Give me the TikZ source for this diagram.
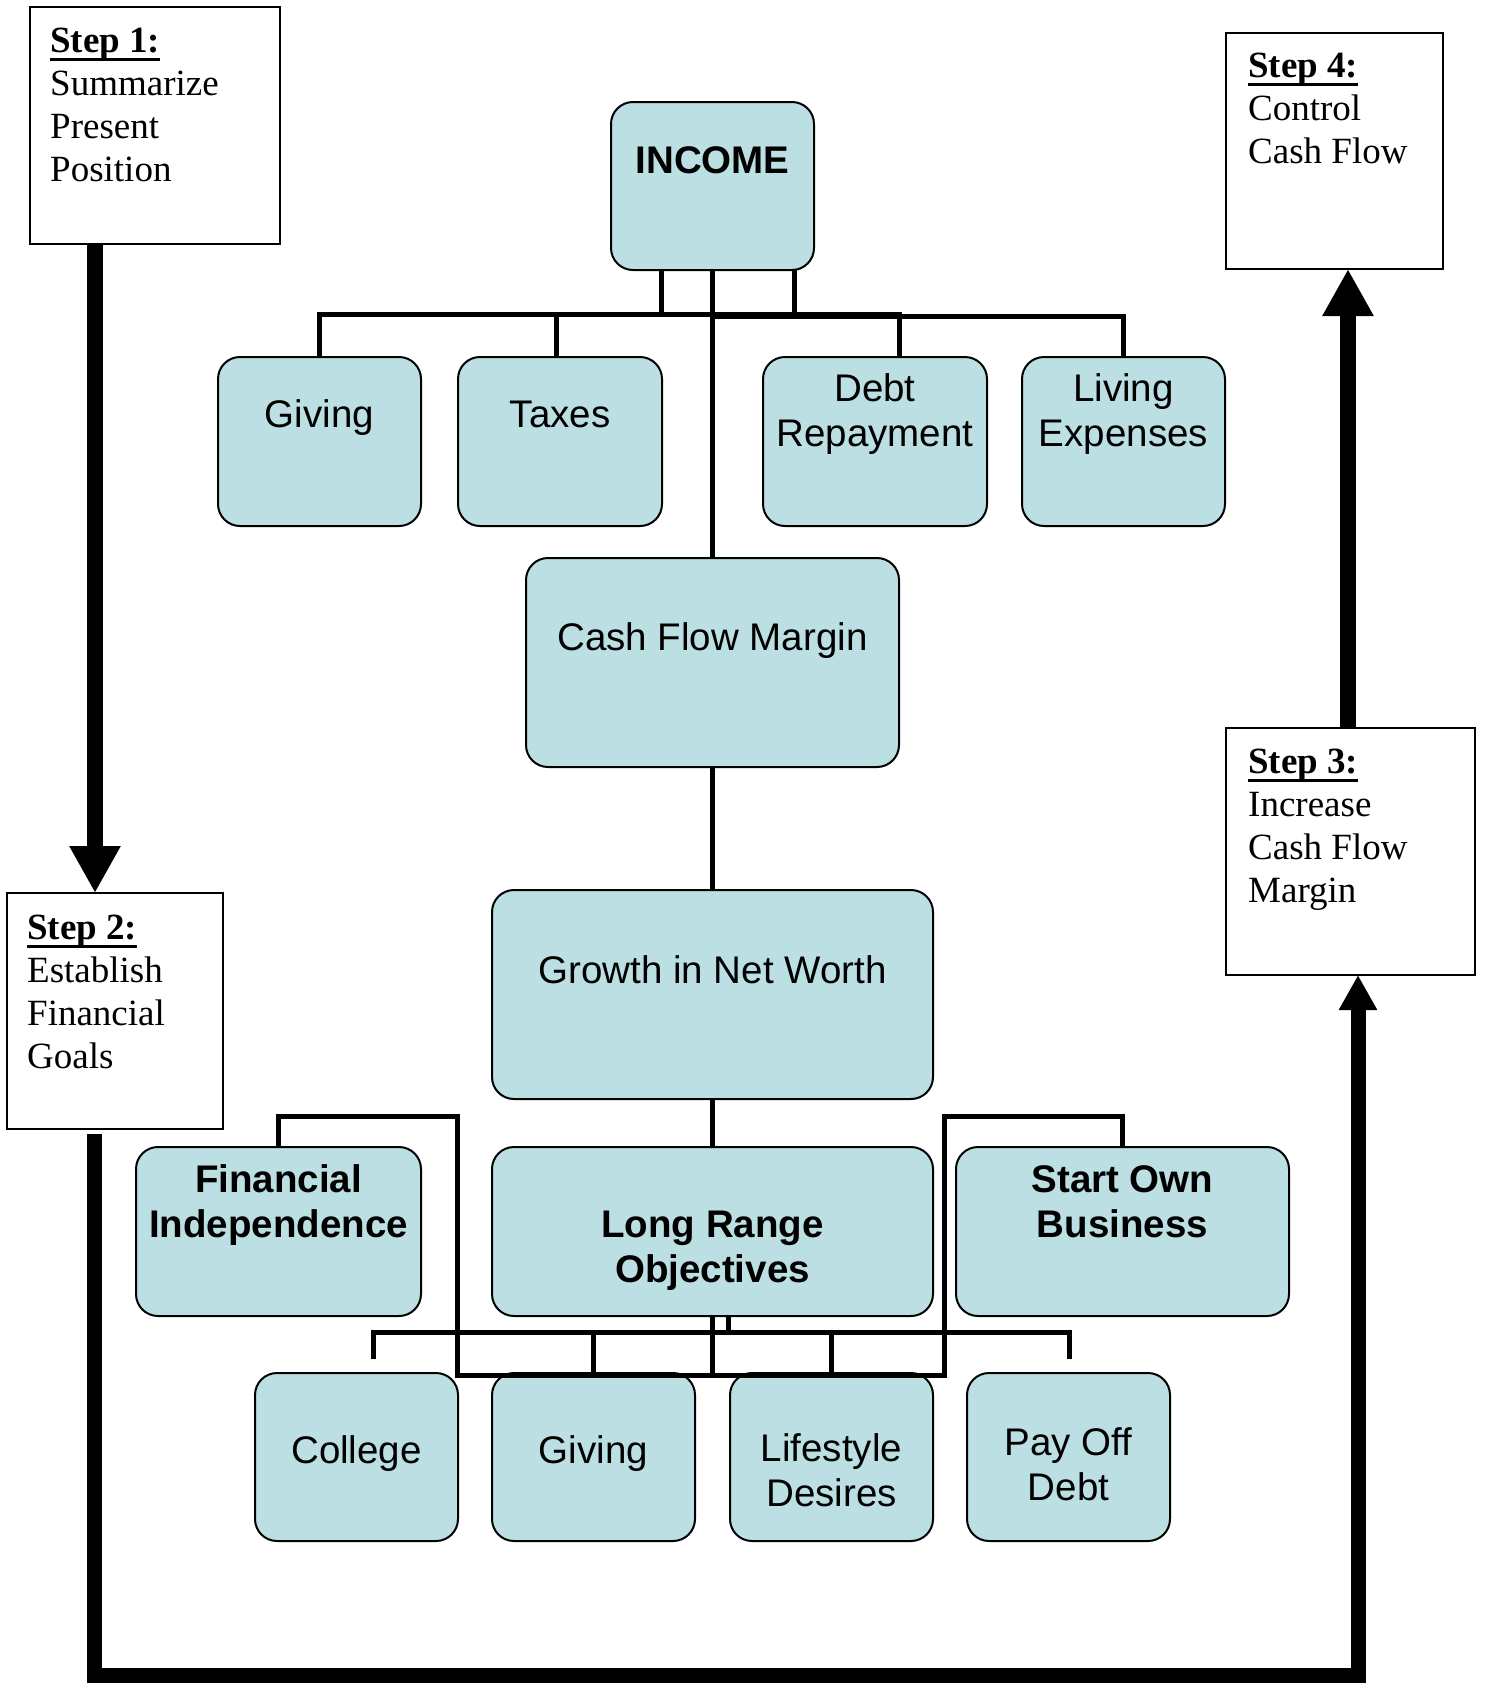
\documentclass[tikz,border=0pt]{standalone}
\usepackage{fontspec}
\setmainfont{Liberation Serif}
\newfontfamily\arialf{Liberation Sans}
\usetikzlibrary{arrows.meta,calc}
\definecolor{boxfill}{RGB}{187,223,227}
\newcommand\stepul[1]{\setbox0=\hbox{#1}\rlap{\rule[-9pt]{\wd0}{3pt}}\box0}
\tikzset{
 cbox/.style={draw=black, line width=2pt, fill=boxfill, rounded corners=22pt, inner sep=0pt, outer sep=0pt},
 ctext/.style={font=\arialf\fontsize{38.5}{45.5}\selectfont, align=center, inner sep=0pt, anchor=north},
 sbox/.style={draw=black, line width=2pt, fill=white, inner sep=0pt, outer sep=0pt},
 stext/.style={font=\fontsize{37}{43}\selectfont, align=left, inner sep=0pt, anchor=north west},
 conn/.style={line width=5pt, line join=miter},
 bigarrow/.style={line width=16pt, -{Triangle[width=48pt,length=47pt]}},
 midarrow/.style={line width=15pt, line join=miter, -{Triangle[width=36pt,length=35pt]}},
}
\begin{document}
\begin{tikzpicture}[x=1pt,y=-1pt]
\useasboundingbox[fill=white] (0,0) rectangle (1486,1690);
% step boxes
\node[sbox, minimum width=250pt, minimum height=237pt] (s1) at (155,125.5) {};
\node[sbox, minimum width=216pt, minimum height=236pt] (s2) at (115,1011) {};
\node[sbox, minimum width=249pt, minimum height=247pt] (s3) at (1350.5,851.5) {};
\node[sbox, minimum width=217pt, minimum height=236pt] (s4) at (1334.5,151) {};
% coloured boxes
\node[cbox, minimum width=203pt, minimum height=168pt] (inc) at (712.5,186) {};
\node[cbox, minimum width=203pt, minimum height=169pt] (giv1) at (319.5,441.5) {};
\node[cbox, minimum width=204pt, minimum height=169pt] (tax) at (560,441.5) {};
\node[cbox, minimum width=224pt, minimum height=169pt] (debt) at (875,441.5) {};
\node[cbox, minimum width=203pt, minimum height=169pt] (liv) at (1123.5,441.5) {};
\node[cbox, minimum width=373pt, minimum height=209pt] (cfm) at (712.5,662.5) {};
\node[cbox, minimum width=441pt, minimum height=209pt] (grw) at (712.5,994.5) {};
\node[cbox, minimum width=285pt, minimum height=169pt] (fi) at (278.5,1231.5) {};
\node[cbox, minimum width=441pt, minimum height=169pt] (lro) at (712.5,1231.5) {};
\node[cbox, minimum width=333pt, minimum height=169pt] (sob) at (1122.5,1231.5) {};
\node[cbox, minimum width=203pt, minimum height=168pt] (col) at (356.5,1457) {};
\node[cbox, minimum width=203pt, minimum height=168pt] (giv2) at (593.5,1457) {};
\node[cbox, minimum width=203pt, minimum height=168pt] (lif) at (831.5,1457) {};
\node[cbox, minimum width=203pt, minimum height=168pt] (pod) at (1068.5,1457) {};
% connector helper coordinates
\coordinate (barA) at (0,314);
\coordinate (barB) at (0,316);
\coordinate (barC) at (0,1332);
\coordinate (barD) at (0,1375);
\coordinate (dc) at (373,1359);
\coordinate (dp) at (1069,1359);
\coordinate (jl) at (457,1116);
\coordinate (jr) at (944,1116);
\coordinate (lb) at (94,1675);
\coordinate (rb) at (1358,1675);
% INCOME connectors
\draw[conn] ([xshift=-51.5pt]inc.south) -- ([xshift=-51.5pt]inc.south |- barA);
\draw[conn] (giv1.north) |- ([xshift=24pt]debt.north |- barA) -- ([xshift=24pt]debt.north);
\draw[conn] ([xshift=-4pt]tax.north) -- ([xshift=-4pt]tax.north |- barA);
\draw[conn] ([xshift=81.5pt]inc.south) -- ([xshift=81.5pt]inc.south |- barB);
\draw[conn] (inc.south |- barB) -| (liv.north);
\draw[conn] (inc.south) -- (cfm.north);
\draw[conn] (cfm.south) -- (grw.north);
\draw[conn] (grw.south) -- (lro.north);
% Long range connectors
\draw[conn] (lro.south) -- (lro.south |- barD);
\draw[conn] ([xshift=16pt]lro.south) -- ([xshift=16pt]lro.south |- barC);
\draw[conn] (dc) |- (dp |- barC) -- (dp);
\draw[conn] (giv2.north |- barC) -- (giv2.north);
\draw[conn] (lif.north |- barC) -- (lif.north);
\draw[conn] (fi.north) |- (jl) -- (jl |- barD) -- (jr |- barD) -- (jr) -| (sob.north);
% step arrows
\draw[bigarrow] ([xshift=-60pt]s1.south) -- ([xshift=-20pt]s2.north);
\draw[midarrow] ([xshift=-21pt,yshift=-5pt]s2.south) -- (lb) -- (rb) -- ([xshift=7.5pt]s3.south);
\draw[bigarrow] ([xshift=-2.5pt]s3.north) -- ([xshift=13.5pt]s4.south);
% texts
\node[ctext] (incT) at (712.5,141.7) {\strut\textbf{INCOME}};
\node[ctext] (giv1T) at (319.5,395.2) {\strut Giving};
\node[ctext] (taxT) at (560,395.2) {\strut Taxes};
\node[ctext] (debtT) at (875,369.2) {\strut Debt\\Repayment};
\node[ctext] (livT) at (1123.5,369.2) {\strut Living\\Expenses};
\node[ctext] (cfmT) at (712.5,618.2) {\strut Cash Flow Margin};
\node[ctext] (grwT) at (712.5,951.2) {\strut Growth in Net Worth};
\node[ctext] (fiT) at (278.5,1160.2) {\strut\textbf{Financial}\\\textbf{Independence}};
\node[ctext] (lroT) at (712.5,1205.2) {\strut\textbf{Long Range}\\\textbf{Objectives}};
\node[ctext] (sobT) at (1122.5,1160.2) {\strut\textbf{Start Own}\\\textbf{Business}};
\node[ctext] (colT) at (356.5,1431.2) {\strut College};
\node[ctext] (giv2T) at (593.5,1431.2) {\strut Giving};
\node[ctext] (lifT) at (831.5,1429.2) {\strut Lifestyle\\Desires};
\node[ctext] (podT) at (1068.5,1423.2) {\strut Pay Off\\Debt};
\node[stext] (s1T) at (50,22) {\strut\stepul{\textbf{Step 1:}}\\Summarize\\Present\\Position};
\node[stext] (s2T) at (27,909) {\strut\stepul{\textbf{Step 2:}}\\Establish\\Financial\\Goals};
\node[stext] (s3T) at (1248,743) {\strut\stepul{\textbf{Step 3:}}\\Increase\\Cash Flow\\Margin};
\node[stext] (s4T) at (1248,47) {\strut\stepul{\textbf{Step 4:}}\\Control\\Cash Flow};
\end{tikzpicture}
\end{document}
